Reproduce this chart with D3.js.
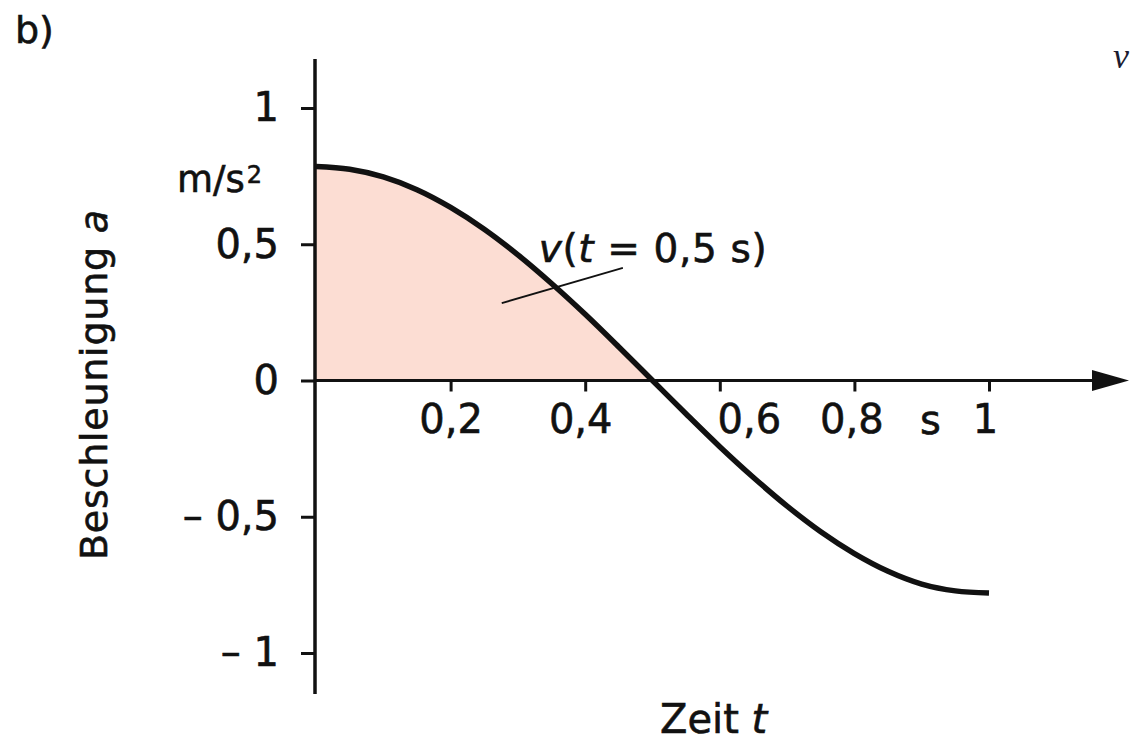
<!DOCTYPE html>
<html>
<head>
<meta charset="utf-8">
<script src="https://cdn.jsdelivr.net/npm/d3@7"></script>
<style>
  body { margin: 0; background: #fff; }
  svg { display: block; }
  text { font-family: "DejaVu Sans", sans-serif; fill: #111; stroke: #111; stroke-width: 0.6px; }
</style>
</head>
<body>
<svg id="chart" width="1130" height="741"></svg>
<script>
// Acceleration a(t) over one second
const timeS = [0, 0.05, 0.1, 0.15, 0.2, 0.25, 0.3, 0.35, 0.4, 0.45, 0.5,
               0.55, 0.6, 0.65, 0.7, 0.75, 0.8, 0.85, 0.9, 0.95, 1];
const accel = [0.785, 0.775, 0.747, 0.700, 0.635, 0.555, 0.461, 0.356, 0.243, 0.123, 0,
               -0.123, -0.243, -0.356, -0.461, -0.555, -0.635, -0.700, -0.747, -0.772, -0.78];

// Axis ticks and their labels (German decimal comma)
const xTicks = [0.2, 0.4, 0.6, 0.8, 1];
const xTickLabels = ["0,2", "0,4", "0,6", "0,8", "1"];
const yTicks = [-1, -0.5, 0, 0.5, 1];
const yTickLabels = ["– 1", "– 0,5", "0", "0,5", "1"];

// Area under the curve up to t = 0.5 s equals v(t = 0.5 s)
const shadedUntil = 0.5;

const svg = d3.select("#chart");
const x = d3.scaleLinear().domain([0, 1]).range([316, 989]);
const y = d3.scaleLinear().domain([-1, 1]).range([653, 108]);

const pts = timeS.map((t, i) => ({ t, a: accel[i] }));
const ink = "#111";

// shaded area
const area = d3.area()
  .x(d => x(d.t))
  .y0(y(0))
  .y1(d => y(d.a))
  .curve(d3.curveMonotoneX);
svg.append("path")
  .datum(pts.filter(d => d.t <= shadedUntil))
  .attr("d", area)
  .attr("fill", "#fcddd3");

// x axis line with arrow head
const arrowStart = 1092, arrowTip = 1129;
svg.append("line")
  .attr("x1", x(0) - 1).attr("x2", arrowStart + 2)
  .attr("y1", y(0)).attr("y2", y(0))
  .attr("stroke", ink).attr("stroke-width", 3);
svg.append("path")
  .attr("d", `M${arrowStart},${y(0) - 10.5}L${arrowTip},${y(0)}L${arrowStart},${y(0) + 10.5}Z`)
  .attr("fill", ink);

// y axis line
svg.append("line")
  .attr("x1", x(0) - 1).attr("x2", x(0) - 1)
  .attr("y1", y(1.18)).attr("y2", y(-1.15))
  .attr("stroke", ink).attr("stroke-width", 3.5);

// y axis ticks and labels
const gY = svg.append("g")
  .attr("transform", `translate(${x(0) - 1},0)`)
  .call(d3.axisLeft(y)
    .tickValues(yTicks)
    .tickFormat((d, i) => yTickLabels[i])
    .tickSize(14)
    .tickPadding(22));
gY.select(".domain").remove();
gY.attr("font-family", null).attr("font-size", null);
gY.selectAll(".tick line").attr("stroke", ink).attr("stroke-width", 3);
gY.selectAll(".tick text").attr("fill", ink).style("font-size", "40px");

// x axis ticks and labels
const gX = svg.append("g")
  .attr("transform", `translate(0,${y(0)})`)
  .call(d3.axisBottom(x)
    .tickValues(xTicks)
    .tickFormat((d, i) => xTickLabels[i])
    .tickSize(11)
    .tickPadding(13));
gX.select(".domain").remove();
gX.attr("font-family", null).attr("font-size", null);
gX.selectAll(".tick line").attr("stroke", ink).attr("stroke-width", 3);
gX.selectAll(".tick text").attr("fill", ink).style("font-size", "40px")
  .attr("dx", d => d === 0.6 ? 29 : (d === 0.4 ? -5 : (d === 1 ? -4 : (d === 0.8 ? -3 : 0))));

// unit of the time axis
svg.append("text")
  .attr("x", x(0.913)).attr("y", 434)
  .attr("text-anchor", "middle")
  .style("font-size", "40px")
  .text("s");

// acceleration curve
const line = d3.line()
  .x(d => x(d.t))
  .y(d => y(d.a))
  .curve(d3.curveMonotoneX);
svg.append("path")
  .datum(pts)
  .attr("d", line)
  .attr("fill", "none")
  .attr("stroke", ink)
  .attr("stroke-width", 5.5);

// annotation v(t = 0,5 s)
svg.append("line")
  .attr("x1", x(0.276)).attr("y1", y(0.284))
  .attr("x2", x(0.456)).attr("y2", y(0.413))
  .attr("stroke", ink).attr("stroke-width", 1.8);
const ann = svg.append("text")
  .attr("x", x(0.331)).attr("y", y(0.435))
  .style("font-size", "39px")
  .attr("textLength", 228)
  .attr("lengthAdjust", "spacing");
ann.append("tspan").style("font-style", "italic").text("v");
ann.append("tspan").text("(");
ann.append("tspan").style("font-style", "italic").text("t");
ann.append("tspan").text(" = 0,5 s)");

// unit of the acceleration axis
const unit = svg.append("text")
  .attr("x", 177).attr("y", 192)
  .style("font-size", "37px");
unit.append("tspan").text("m/s");
unit.append("tspan").attr("dx", 2).attr("dy", -9).style("font-size", "24px").text("2");

// axis titles
const yTitle = svg.append("text")
  .attr("transform", "translate(107,560) rotate(-90)")
  .style("font-size", "38px")
  .attr("textLength", 350)
  .attr("lengthAdjust", "spacing");
yTitle.append("tspan").text("Beschleunigung ");
yTitle.append("tspan").style("font-style", "italic").text("a");

const xTitle = svg.append("text")
  .attr("x", 660).attr("y", 733)
  .style("font-size", "40px");
xTitle.append("tspan").text("Zeit ");
xTitle.append("tspan").style("font-style", "italic").text("t");

// panel label
svg.append("text")
  .attr("x", 15).attr("y", 43)
  .style("font-size", "38px")
  .text("b)");

// letter at the right edge
svg.append("text")
  .attr("x", 1113).attr("y", 68)
  .style("font-family", "'Liberation Serif', serif")
  .style("font-style", "italic")
  .style("font-size", "36px")
  .style("fill", "#1b1b30")
  .style("stroke", "none")
  .text("v");
</script>
</body>
</html>
